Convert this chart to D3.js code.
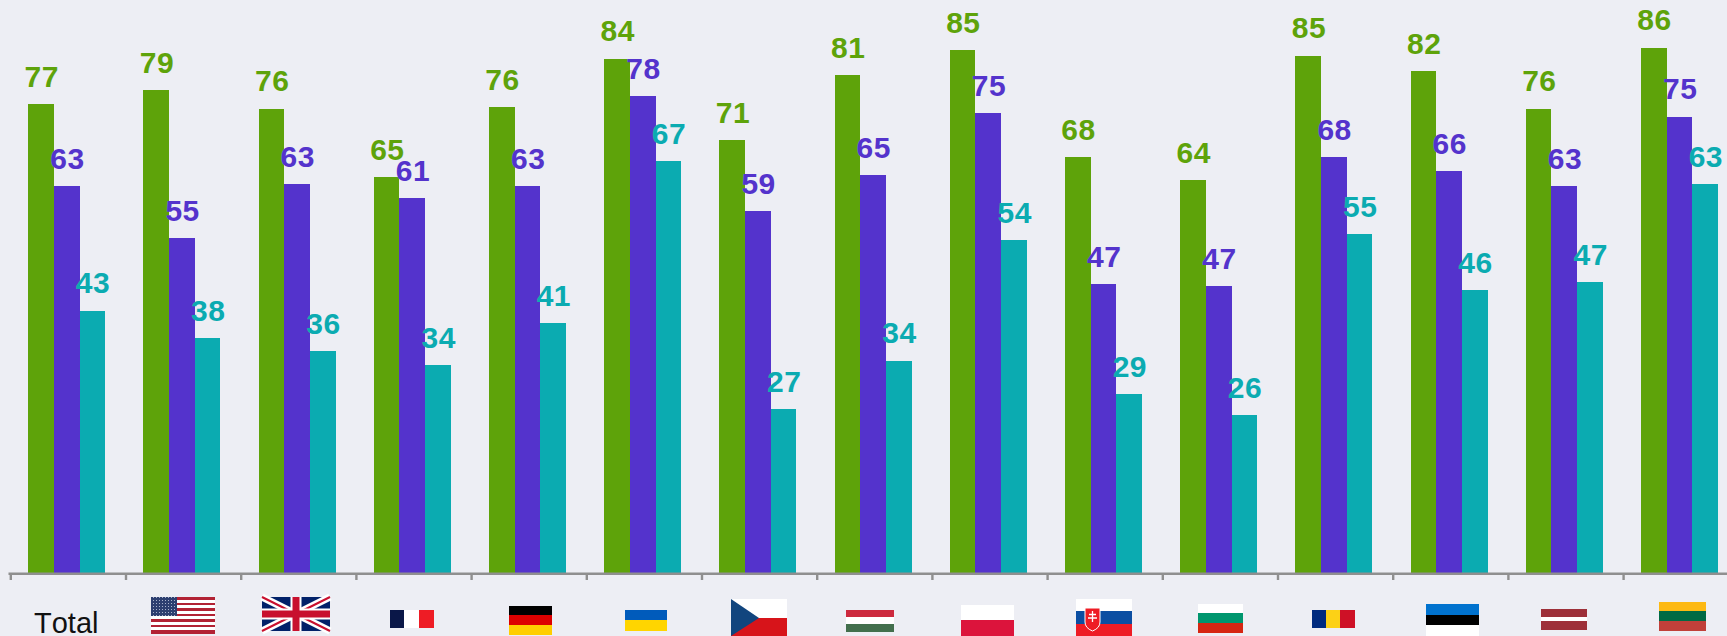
<!DOCTYPE html>
<html><head><meta charset="utf-8">
<script src="https://cdn.jsdelivr.net/npm/d3@7"></script>
<style>html,body{margin:0;padding:0;background:#edeef4;overflow:hidden}svg{display:block}text{font-family:"Liberation Sans",Arial,sans-serif}</style>
</head><body><div id="c"></div>
<script>
const categories = ["Total","USA","UK","France","Germany","Ukraine","Czech Republic","Hungary","Poland","Slovakia","Bulgaria","Romania","Estonia","Latvia","Lithuania"];
// bar heights
const seriesA = [76.9,79.2,76.1,64.9,76.4,84.3,71.0,81.6,85.7,68.2,64.4,84.8,82.3,76.1,86.1];
const seriesB = [63.4,54.9,63.8,61.5,63.4,78.2,59.3,65.2,75.4,47.4,47.0,68.2,65.9,63.4,74.8];
const seriesC = [43.0,38.5,36.4,34.1,41.0,67.5,26.9,34.8,54.6,29.3,25.9,55.6,46.4,47.7,63.8];
// printed labels
const labelsA = [77,79,76,65,76,84,71,81,85,68,64,85,82,76,86];
const labelsB = [63,55,63,61,63,78,59,65,75,47,47,68,66,63,75];
const labelsC = [43,38,36,34,41,67,27,34,54,29,26,55,46,47,63];
const colors = ["#5ea30a","#5433cc","#0babb1"];
const W=1727,H=636,base=573;
const svg=d3.select("#c").append("svg").attr("width",W).attr("height",H);
const x0=d3.scaleBand().domain(categories).range([28.2,28.2+15*115.2-38.2]).paddingInner(38.2/115.2).paddingOuter(0);
const x1=d3.scaleBand().domain([0,1,2]).range([0,x0.bandwidth()]);
const y=d3.scaleLinear().domain([0,100]).range([base,base-610]);
const groups=svg.selectAll("g.g").data(categories).join("g").attr("class","g").attr("transform",d=>`translate(${x0(d)},0)`);
[[seriesA,labelsA],[seriesB,labelsB],[seriesC,labelsC]].forEach(([vals,labs],s)=>{
  groups.append("rect").attr("x",x1(s)).attr("width",x1.bandwidth()).attr("y",(d,i)=>y(vals[i])).attr("height",(d,i)=>base-y(vals[i])).attr("fill",colors[s]).attr("shape-rendering","crispEdges");
});
[[seriesA,labelsA],[seriesB,labelsB],[seriesC,labelsC]].forEach(([vals,labs],s)=>{
  groups.append("text").attr("x",x1(s)+x1.bandwidth()/2+.7).attr("y",(d,i)=>y(vals[i])-17.3).attr("text-anchor","middle").attr("font-weight","bold").attr("font-size",30).attr("letter-spacing",.5).attr("fill",colors[s]).text((d,i)=>labs[i]);
});
const ax=svg.append("g").attr("fill","#8f8f8f");
ax.append("rect").attr("x",8.5).attr("y",572.5).attr("width",W-8.5).attr("height",2.5);
categories.forEach((c,i)=>ax.append("rect").attr("x",x0(c)-19.1+.5-x0.step()*0+(-.0)-0).attr("y",575).attr("width",2.4).attr("height",5));
svg.append("text").attr("x",34).attr("y",633).attr("font-size",29).attr("fill","#111").style("font-kerning","none").text("Total");
// star field texture for the US canton
const defs=svg.append("defs");
const pat=defs.append("pattern").attr("id","stars").attr("patternUnits","userSpaceOnUse").attr("width",3).attr("height",3);
pat.append("rect").attr("width",3).attr("height",3).attr("fill","#2d3f70");
pat.append("rect").attr("width",1).attr("height",1).attr("fill","#aab3cc");
// flags: [x,y,w,h, direction, stripes]
const stripes=[
 [151,597,64,36,"h",["#b22234","#fff","#b22234","#fff","#b22234","#fff","#b22234","#fff","#b22234","#fff","#b22234","#fff","#b22234"]],
 [390,610,43,18,"v",["#0a1748","#fff","#ee1c25"]],
 [509,606,43,28,"h",["#000","#dd0000","#ffce00"]],
 [625,610,42,20,"h",["#005bbb","#ffd500"]],
 [846,610,48,21,"h",["#cd2a3e","#fff","#436f4d"]],
 [961,605,53,30,"h",["#fff","#dc143c"]],
 [1076,599,56,37,"h",["#fff","#0b4ea2","#ee1c25"]],
 [1198,604,45,28,"h",["#fff","#00966e","#d62612"]],
 [1312,610,42,18,"v",["#002b7f","#fcd116","#ce1126"]],
 [1426,604,53,32,"h",["#0072ce","#000","#fff"]],
 [1541,609,46,20,"h",["#9e3039","#9e3039","#fff","#9e3039","#9e3039"]],
 [1659,602,47,28,"h",["#fdb913","#006a44","#c1403a"]]
];
const fl=svg.append("g").attr("shape-rendering","crispEdges");
stripes.forEach(([fx,fy,w,h,dir,c])=>c.forEach((col,i)=>{
  if(dir=="h")fl.append("rect").attr("x",fx).attr("y",fy+i*h/c.length).attr("width",w).attr("height",h/c.length+.5).attr("fill",col);
  else fl.append("rect").attr("x",fx+i*w/c.length).attr("y",fy).attr("width",w/c.length+.5).attr("height",h).attr("fill",col);
}));
fl.append("rect").attr("x",151).attr("y",597).attr("width",26).attr("height",19).attr("fill","url(#stars)");
// UK
const uk=svg.append("g");
uk.append("rect").attr("x",262).attr("y",597).attr("width",68).attr("height",34).attr("fill","#012169");
uk.append("path").attr("d","M262,597L330,631M330,597L262,631").attr("stroke","#fff").attr("stroke-width",7);
uk.append("path").attr("d","M262,597L330,631M330,597L262,631").attr("stroke","#c8102e").attr("stroke-width",2);
uk.append("path").attr("d","M296,597V631M262,614H330").attr("stroke","#fff").attr("stroke-width",11);
uk.append("path").attr("d","M296,597V631M262,614H330").attr("stroke","#c8102e").attr("stroke-width",7);
// Czech
svg.append("rect").attr("x",731).attr("y",599).attr("width",56).attr("height",19).attr("fill","#fff");
svg.append("rect").attr("x",731).attr("y",618).attr("width",56).attr("height",18).attr("fill","#d7141a");
svg.append("path").attr("d","M731,599L759,618L731,636Z").attr("fill","#11457e");
// Slovak shield
svg.append("path").attr("d","M1085,608h15v14q0,6,-7.5,9q-7.5,-3,-7.5,-9Z").attr("fill","#ee1c25").attr("stroke","#fff").attr("stroke-width",1);
svg.append("path").attr("d","M1092.5,611v11M1089,614.5h7M1088,618h9").attr("stroke","#fff").attr("stroke-width",1.3);
</script></body></html>
